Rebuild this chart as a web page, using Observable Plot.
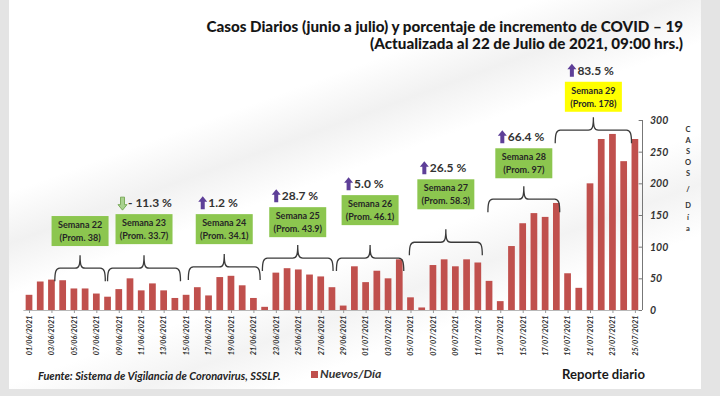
<!DOCTYPE html>
<html><head><meta charset="utf-8">
<script src="https://cdn.jsdelivr.net/npm/d3@7"></script>
<script src="https://cdn.jsdelivr.net/npm/@observablehq/plot@0.6"></script>
<style>
body{margin:0;background:#e4e4e4;}
#wrap{position:relative;width:720px;height:396px;overflow:hidden;font-family:Lato,"Open Sans",sans-serif;color:#1e1e1e;}
#card{position:absolute;left:9px;top:0;width:692px;height:389px;
 background:linear-gradient(160deg,#ffffff 0%,#ffffff 30%,#f1f1f1 38%,#ffffff 46%,#ffffff 60%,#f3f3f3 68%,#ffffff 76%,#ffffff 100%);}
#title{position:absolute;right:37px;top:18px;text-align:right;font-weight:900;font-size:15.2px;line-height:17px;white-space:nowrap;color:#161616;}
#chart{position:absolute;left:0;top:0;}
.foot{position:absolute;white-space:nowrap;}
.ylet{position:absolute;left:683px;width:10px;text-align:center;font-weight:700;font-size:7.5px;color:#333;}
</style></head>
<body>
<div id="wrap">
 <div id="card"></div>
 <div id="chart"></div>
 <div id="title">Casos Diarios (junio a julio) y porcentaje de incremento de COVID – 19<br>(Actualizada al 22 de Julio de 2021, 09:00 hrs.)</div>
 <div class="foot" style="left:38px;top:369px;font-style:italic;font-weight:700;font-size:11px;color:#222;">Fuente: Sistema de Vigilancia de Coronavirus, SSSLP.</div>
 <div class="foot" style="left:311px;top:371px;width:7px;height:7px;background:#c0504d;"></div>
 <div class="foot" style="left:320px;top:366px;font-style:italic;font-weight:700;font-size:12.2px;color:#333;">Nuevos/Día</div>
 <div class="foot" style="left:562px;top:366px;font-weight:700;font-size:13.1px;color:#1a1a1a;">Reporte diario</div>
</div>
<script>
// ---- data ----
const firstDay = "2021-06-01";
const lastDay = "2021-07-25";
const cases = [24,45,48,47,34,34,26,21,33,50,31,42,31,19,24,36,23,52,54,39,19,5,59,66,64,56,53,36,7,69,
               44,62,50,80,20,4,71,80,69,80,75,46,14,101,137,153,147,169,58,35,200,270,278,235,270];
const weeks = ["Semana 22","Semana 23","Semana 24","Semana 25","Semana 26","Semana 27","Semana 28","Semana 29"];
const weekAvg = ["38","33.7","34.1","43.9","46.1","58.3","97","178"];
const weekChange = [null,-11.3,1.2,28.7,5.0,26.5,66.4,83.5];
const yTicks = [0,50,100,150,200,250,300];
const yTitle = ["C","A","S","O","S","/","D","í","a"];

// ---- annotation layout (day index along x, case units along y) ----
const braceFrom = [2.3,7.0,14.2,20.8,27.4,33.9,40.9,46.9];
const braceTo   = [6.8,13.5,20.6,27.1,33.4,40.4,47.3,53.7];
const braceLevel = [66,66,68,82,82,107,175,284];
const boxLevel = [101,104,104,115,134,159,208,313];
const yTitleTop = [125,136,147,158,169,185,201,213,224];

const DAY = 864e5;
const t0 = new Date(firstDay + "T00:00:00Z");
const tEnd = new Date(+new Date(lastDay + "T00:00:00Z") + DAY);
const table = cases.map((v, i) => ({start: new Date(+t0 + i*DAY), end: new Date(+t0 + (i+1)*DAY), value: v}));
const xTicks = table.filter((d, i) => i % 2 === 0).map(d => new Date(+d.start + DAY/2));
const fmt = d3.utcFormat("%d/%m/%Y");

function annotations(index, scales) {
  const x = scales.x, y = scales.y;
  const px = f => x(new Date(+t0 + (f + 0.5) * DAY));
  const g = d3.create("svg:g");
  weeks.forEach((w, k) => {
    const x1 = px(braceFrom[k]), x2 = px(braceTo[k]), xm = (x1 + x2) / 2;
    const yb = y(braceLevel[k]);
    const e = 13, tip = 13, r = 5;
    g.append("path")
      .attr("d", `M${x1},${yb+e} C${x1},${yb+4} ${x1+1},${yb} ${x1+r},${yb} L${xm-r},${yb} C${xm-1},${yb} ${xm},${yb-3} ${xm},${yb-tip} C${xm},${yb-3} ${xm+1},${yb} ${xm+r},${yb} L${x2-r},${yb} C${x2-1},${yb} ${x2},${yb+4} ${x2},${yb+e}`)
      .attr("fill", "none").attr("stroke", "#3a3a3a").attr("stroke-width", 1.3);
    const bw = 57, bh = 30;
    const yTop = y(boxLevel[k]) - bh;
    g.append("rect").attr("x", xm - bw/2).attr("y", yTop).attr("width", bw).attr("height", bh)
      .attr("fill", k === weeks.length - 1 ? "#ffff00" : "#8cc64f");
    g.append("text").attr("x", xm).attr("y", yTop + 12).attr("text-anchor", "middle")
      .attr("font-size", 9).attr("font-weight", 700).attr("fill", "#262626").text(w);
    g.append("text").attr("x", xm).attr("y", yTop + 25).attr("text-anchor", "middle")
      .attr("font-size", 9).attr("font-weight", 700).attr("fill", "#262626").text(`(Prom. ${weekAvg[k]})`);
    const c = weekChange[k];
    if (c !== null) {
      const yc = yTop - 11;
      g.append("text").attr("x", xm - 16).attr("y", yc + 4).attr("text-anchor", "start")
        .attr("font-size", 12).attr("font-weight", 700)
        .attr("fill", "#333").text(c < 0 ? `- ${Math.abs(c).toFixed(1)} %` : `${c.toFixed(1)} %`);
      const ax = xm - 21.5;
      if (c >= 0) {
        g.append("path").attr("d", `M${ax},${yc-7} L${ax+4.5},${yc-1.5} L${ax+2},${yc-1.5} L${ax+2},${yc+6} L${ax-2},${yc+6} L${ax-2},${yc-1.5} L${ax-4.5},${yc-1.5} Z`)
          .attr("fill", "#5e3f98");
      } else {
        g.append("path").attr("d", `M${ax},${yc+7} L${ax+4.5},${yc+1.5} L${ax+2},${yc+1.5} L${ax+2},${yc-6} L${ax-2},${yc-6} L${ax-2},${yc+1.5} L${ax-4.5},${yc+1.5} Z`)
          .attr("fill", "#a9d18e").attr("stroke", "#6a9f45").attr("stroke-width", 0.8);
      }
    }
  });
  return g.node();
}

const plot = Plot.plot({
  width: 720, height: 396,
  marginTop: 120, marginBottom: 86, marginLeft: 23.4, marginRight: 79.5,
  style: {background: "transparent", fontFamily: "Lato, 'Open Sans', sans-serif", color: "#333", overflow: "visible"},
  x: {type: "utc", domain: [t0, tEnd]},
  y: {domain: [0, 300]},
  marks: [
    Plot.ruleY([0], {stroke: "#b8b8b8", strokeWidth: 1}),
    Plot.rectY(table, {x1: "start", x2: "end", y: "value", insetLeft: 2.25, insetRight: 2.25, fill: "#c0504d"}),
    Plot.axisX({ticks: xTicks, tickFormat: fmt, tickRotate: -90, tickSize: 3, tickPadding: 2, fontSize: 7.3, fontStyle: "italic", fontWeight: "bold", stroke: "#999", fill: "#333", label: null}),
    Plot.ruleX([tEnd], {y1: 0, y2: 300, dx: 1.5, stroke: "#777", strokeWidth: 1}),
    Plot.ruleY(yTicks, {x1: new Date(+tEnd - 0.3*DAY), x2: tEnd, dx: 1.5, stroke: "#777"}),
    Plot.axisY({ticks: yTicks, anchor: "right", tickSize: 0, tickPadding: 9, fontSize: 10.5, fontStyle: "italic", fontWeight: "bold", fill: "#333", label: null}),
    annotations
  ]
});
document.getElementById("chart").appendChild(plot);

const wrap = document.getElementById("wrap");
yTitle.forEach((ch, i) => {
  const s = document.createElement("div");
  s.className = "ylet"; s.style.top = yTitleTop[i] + "px"; s.textContent = ch;
  wrap.appendChild(s);
});
</script>
</body></html>
